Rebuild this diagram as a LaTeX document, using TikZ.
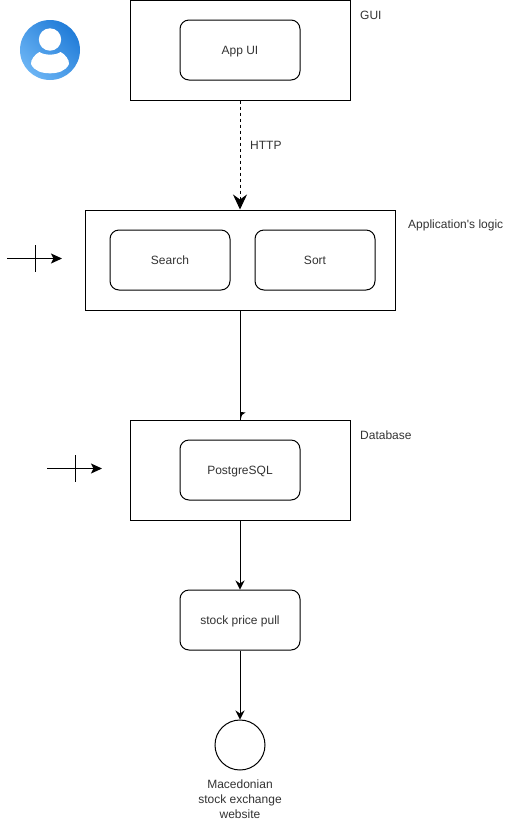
\documentclass[tikz,border=0pt]{standalone}
\usepackage{fontspec}
\setmainfont{Liberation Sans}
\usetikzlibrary{arrows.meta,positioning}
\definecolor{ink}{HTML}{000000}
\definecolor{txt}{HTML}{333333}
\definecolor{iconlight}{HTML}{70B8F6}
\definecolor{icondark}{HTML}{1C78D6}
\tikzset{
  box/.style={draw=ink,line width=1pt,fill=white,rectangle,inner sep=0pt,minimum width=#1,minimum height=100pt},
  rbox/.style={draw=ink,line width=1pt,fill=white,rectangle,rounded corners=9pt,inner sep=0pt,minimum width=120pt,minimum height=60pt,font=\fontsize{12}{14}\selectfont,text=txt,text height=9.6pt,text depth=1.6pt},
  lbl/.style={inner sep=0pt,anchor=west,font=\fontsize{12}{14}\selectfont,text=txt},
  conn/.style={draw=ink,line width=1pt},
  tipbig/.style={-{Stealth[length=15pt,width=14pt,inset=5pt]}},
  tipmid/.style={-{Stealth[length=9pt,width=9pt,inset=3pt]}},
  tipsample/.style={-{Stealth[length=11pt,width=10pt,inset=2.5pt]}}
}
\begin{document}
\begin{tikzpicture}[x=1pt,y=-1pt]
\useasboundingbox (0,0) rectangle (515,831);
% person icon
\begin{scope}
\clip (50,50) circle (30);
\shade[left color=iconlight,right color=icondark,shading angle=135] (16,16) rectangle (84,84);
\end{scope}
\fill[white] (50,39.5) circle (11.2);
\fill[white] (39.5,52) .. controls (44,55.5) and (56,55.5) .. (60.5,52)
  .. controls (65,54) and (69.5,60) .. (69,64)
  .. controls (66,71) and (58,73.3) .. (50,73.3)
  .. controls (42,73.3) and (34,71) .. (31,64)
  .. controls (30.5,60) and (35,54) .. (39.5,52) -- cycle;
% boxes
\node[box=220pt] (gui) at (240,50) {};
\node[rbox] (appui) at (240,50) {App UI};
\node[lbl] (guil) at (360,15) {GUI};
\node[box=310pt] (logic) at (240,260) {};
\node[rbox] (search) at (170,260) {Search};
\node[rbox] (sort) at (315,260) {Sort};
\node[lbl] (logicl) at (408,225) {Application\textquotesingle s logic};
\node[box=220pt] (db) at (240,470) {};
\node[rbox] (pg) at (240,470) {PostgreSQL};
\node[lbl] (dbl) at (360,435) {Database};
\node[rbox] (pull) at (240,620) {stock price pull};
\node[circle,draw=ink,line width=1pt,fill=white,minimum size=50pt,inner sep=0pt] (site) at (240,745) {};
\node[inner sep=0pt,align=center,font=\fontsize{12}{14.6}\selectfont,text=txt,anchor=north] (sitel) at (240,780) {Macedonian\\stock exchange\\website};
% connectors
\draw[conn,dashed,dash pattern=on 3pt off 3pt,tipbig] (gui.south) -- (logic.north);
\node[lbl] (http) at (250,145) {HTTP};
\draw[conn] (logic.south) -- (db.north);
\fill[ink] (240.5,420) -- (241,412) -- (245.5,412.5) -- (242,415) -- cycle;
\draw[conn,tipmid] (db.south) -- (pull.north);
\draw[conn,tipmid] (pull.south) -- (site.north);
% free-standing samples
\coordinate (a1) at (7,258.5);\coordinate (a2) at (62,258.5);
\coordinate (b1) at (35,245);\coordinate (b2) at (35,272);
\draw[conn,tipsample] (a1) -- (a2);
\draw[conn] (b1) -- (b2);
\coordinate (c1) at (47,468.5);\coordinate (c2) at (102,468.5);
\coordinate (d1) at (75,455);\coordinate (d2) at (75,482);
\draw[conn,tipsample] (c1) -- (c2);
\draw[conn] (d1) -- (d2);
\end{tikzpicture}
\end{document}
